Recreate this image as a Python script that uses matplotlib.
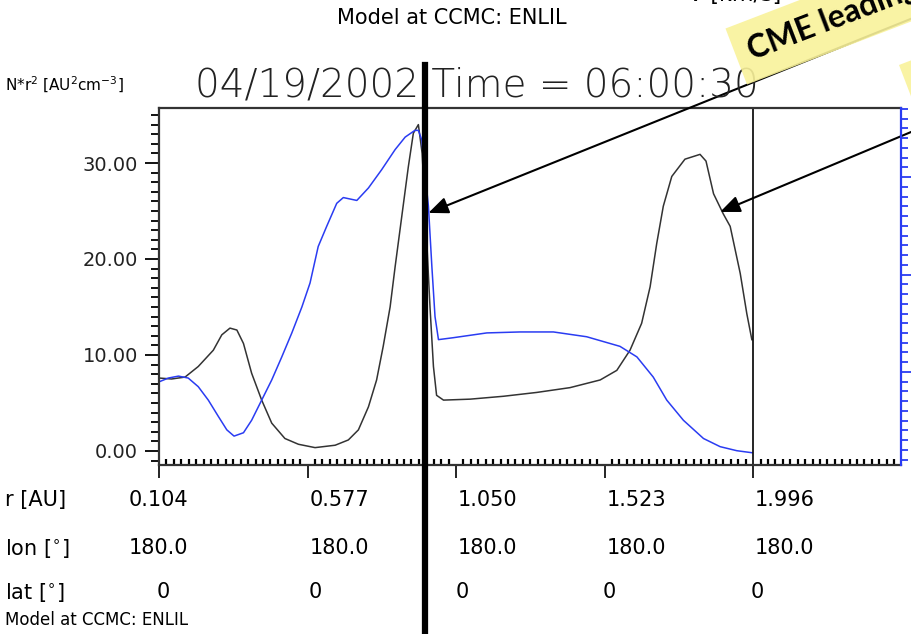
import numpy as np
import matplotlib.pyplot as plt
import matplotlib.transforms as mtransforms
from matplotlib.patches import Polygon
from matplotlib.lines import Line2D
from matplotlib.ticker import FixedLocator, MultipleLocator, NullFormatter

W, H = 912, 634

# black curve: N*r^2 along the radial cut
r_black = [0.104, 0.144, 0.187, 0.229, 0.277, 0.304, 0.330, 0.352, 0.373, 0.399,
           0.431, 0.463, 0.505, 0.548, 0.601, 0.665, 0.707, 0.739, 0.771, 0.797,
           0.818, 0.840, 0.856, 0.877, 0.898, 0.914, 0.930, 0.942, 0.955, 0.967,
           0.978, 0.988, 1.010, 1.095, 1.201, 1.307, 1.413, 1.509, 1.562, 1.604,
           1.641, 1.668, 1.689, 1.710, 1.737, 1.779, 1.827, 1.846, 1.870, 1.901,
           1.923, 1.955, 1.976, 1.992]
n_black = [7.6, 7.5, 7.7, 8.8, 10.5, 12.1, 12.8, 12.6, 11.2, 8.1,
           5.3, 2.9, 1.3, 0.7, 0.35, 0.6, 1.15, 2.2, 4.6, 7.4,
           10.9, 15.0, 19.2, 24.4, 29.6, 33.1, 34.0, 31.0, 23.0, 15.0,
           8.8, 5.8, 5.3, 5.4, 5.7, 6.1, 6.6, 7.4, 8.4, 10.5,
           13.3, 17.1, 21.6, 25.5, 28.6, 30.4, 30.9, 30.2, 26.8, 24.7,
           23.4, 18.5, 14.3, 11.6]

# blue curve: radial speed (drawn on the same scale)
r_blue = [0.104, 0.134, 0.166, 0.197, 0.229, 0.261, 0.293, 0.320, 0.343, 0.373,
          0.399, 0.431, 0.463, 0.495, 0.527, 0.559, 0.585, 0.611, 0.638, 0.670,
          0.691, 0.734, 0.771, 0.813, 0.856, 0.888, 0.919, 0.930, 0.941, 0.951,
          0.962, 0.973, 0.983, 0.994, 1.041, 1.148, 1.254, 1.360, 1.466, 1.572,
          1.626, 1.678, 1.721, 1.774, 1.838, 1.891, 1.944, 1.992]
v_blue = [7.2, 7.6, 7.8, 7.6, 6.7, 5.3, 3.6, 2.2, 1.55, 1.9,
          3.2, 5.3, 7.4, 9.8, 12.3, 15.0, 17.5, 21.3, 23.4, 25.8,
          26.4, 26.1, 27.4, 29.3, 31.4, 32.7, 33.4, 33.4, 32.4, 29.0,
          25.5, 19.2, 14.0, 11.6, 11.8, 12.3, 12.4, 12.4, 11.9, 10.9,
          9.8, 7.7, 5.3, 3.2, 1.3, 0.45, 0.03, -0.18]

r_ticks = [0.104, 0.577, 1.050, 1.523, 1.996]
r_labels = ['0.104', '0.577', '1.050', '1.523', '1.996']
lon_labels = ['180.0', '180.0', '180.0', '180.0', '180.0']
lat_labels = ['0', '0', '0', '0', '0']
y_ticks = [0, 10, 20, 30]
y_labels = ['0.00', '10.00', '20.00', '30.00']


def fx(x):
    return x / W


def fy(y):
    return 1 - y / H


fig = plt.figure(figsize=(W / 100, H / 100), dpi=100)
ax = fig.add_axes([fx(159), fy(465), (901 - 159) / W, (465 - 108) / H])
ax.set_xlim(0.104, 2.467)
ax.set_ylim(-1.46, 35.73)

ax.plot(r_black, n_black, color='#333333', lw=1.1)
ax.plot(r_blue, v_blue, color='#2a3cf2', lw=1.1)
ax.axvline(1.996, color='black', lw=1.2)

for s in ['left', 'top', 'bottom']:
    ax.spines[s].set_color('#333333')
    ax.spines[s].set_linewidth(1.6)
ax.spines['right'].set_visible(False)

ax.yaxis.set_major_locator(FixedLocator(y_ticks))
ax.set_yticklabels(y_labels, fontsize=14, color='#222222')
ax.yaxis.set_minor_locator(MultipleLocator(1))
ax.tick_params(axis='y', which='major', direction='out', length=10, width=1.3, pad=5)
ax.tick_params(axis='y', which='minor', direction='out', length=6, width=1.3)

ax.xaxis.set_major_locator(FixedLocator(r_ticks))
ax.xaxis.set_major_formatter(NullFormatter())
ax.xaxis.set_minor_locator(FixedLocator(np.arange(0.104, 2.467, 0.473 / 20)))
ax.tick_params(axis='x', which='major', direction='out', length=9, width=1.2)
ax.tick_params(axis='x', which='minor', direction='in', length=4, width=1.6)

# right blue axis
ax2 = ax.twinx()
ax2.set_ylim(0.46, 37.08)
ax2.yaxis.set_major_locator(MultipleLocator(10))
ax2.yaxis.set_minor_locator(MultipleLocator(1))
ax2.yaxis.set_major_formatter(NullFormatter())
ax2.tick_params(axis='y', which='major', colors='#2a3cf2', length=8, width=1.3)
ax2.tick_params(axis='y', which='minor', colors='#2a3cf2', length=5, width=1.3)
for s in ['left', 'top', 'bottom']:
    ax2.spines[s].set_visible(False)
ax2.spines['right'].set_color('#2a3cf2')
ax2.spines['right'].set_linewidth(1.6)

# table of coordinates under the axis
blend = mtransforms.blended_transform_factory(ax.transData, fig.transFigure)
for i, r in enumerate(r_ticks):
    dx = -30 if i == 0 else 2
    tr = mtransforms.offset_copy(blend, fig=fig, x=dx, y=0, units='dots')
    fig.text(r, fy(500), r_labels[i], transform=tr, ha='left', va='center', fontsize=15)
    fig.text(r, fy(548), lon_labels[i], transform=tr, ha='left', va='center', fontsize=15)
    tr0 = mtransforms.offset_copy(blend, fig=fig, x=[4, 8, 6, 5, 4][i], y=0, units='dots')
    fig.text(r, fy(592), lat_labels[i], transform=tr0, ha='center', va='center', fontsize=15)

fig.text(fx(5), fy(500), 'r [AU]', ha='left', va='center', fontsize=15)
fig.text(fx(5), fy(548), r'lon [$^{\circ}$]', ha='left', va='center', fontsize=15)
fig.text(fx(5), fy(592), r'lat [$^{\circ}$]', ha='left', va='center', fontsize=15)
fig.text(fx(5), fy(620), 'Model at CCMC: ENLIL', ha='left', va='center', fontsize=12)

fig.text(fx(452), fy(18), 'Model at CCMC: ENLIL', ha='center', va='center', fontsize=15)
fig.text(fx(735), fy(1), 'V [km/s]', ha='center', va='baseline', fontsize=16)
fig.text(fx(5), fy(85), r'N*r$^2$ [AU$^2$cm$^{-3}$]', ha='left', va='center', fontsize=11)
fig.text(fx(195), fy(97), '04/19/2002 Time = 06:00:30', ha='left', va='baseline',
         fontsize=28, fontweight='light', color='#222222')

# thick marker line
fig.add_artist(Line2D([fx(425), fx(425)], [fy(65), 0], transform=fig.transFigure,
                      color='black', lw=4.5, zorder=4))

# arrows
arrow = dict(arrowstyle='-|>,head_length=1.0,head_width=0.42', color='black', lw=1.5,
             mutation_scale=12, shrinkA=0, shrinkB=0)
ax.annotate('', xy=(0.962, 24.8), xycoords='data', xytext=(912, H - 18.4),
            textcoords='figure pixels', arrowprops=arrow, annotation_clip=False)
ax.annotate('', xy=(1.891, 24.9), xycoords='data', xytext=(912, H - 131.6),
            textcoords='figure pixels', arrowprops=arrow, annotation_clip=False)

# sticky notes
th = np.deg2rad(21)
u = np.array([np.cos(th), -np.sin(th)])
n = np.array([np.sin(th), np.cos(th)])
for tl in [np.array([725.5, 28.5]), np.array([899.0, 65.0])]:
    bl = tl + 60 * n
    pts = [tl, tl + 500 * u, bl + 500 * u, bl]
    fig.add_artist(Polygon([(fx(p[0]), fy(p[1])) for p in pts], closed=True,
                           transform=fig.transFigure, facecolor='#f9f29a',
                           edgecolor='none', alpha=0.9, zorder=5))
fig.text(fx(752), fy(60), 'CME leading edge', rotation=21, rotation_mode='anchor',
         ha='left', va='baseline', fontsize=23, fontweight='bold',
         family=['Lato', 'DejaVu Sans'], zorder=6)

fig.savefig('out.png', dpi=100)
